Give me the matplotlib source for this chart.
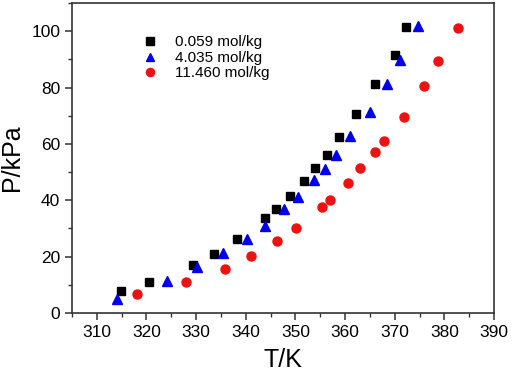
import matplotlib
matplotlib.use("Agg")
import matplotlib.pyplot as plt
from matplotlib.ticker import MultipleLocator

plt.rcParams['font.family'] = ['Liberation Sans', 'DejaVu Sans']

labels = ["0.059 mol/kg", "4.035 mol/kg", "11.460 mol/kg"]

T1 = [314.9, 320.5, 329.4, 333.6, 338.2, 343.8, 346.1, 348.9, 351.8, 354.0, 356.3, 358.8, 362.2, 366.0, 370.0, 372.3]
P1 = [7.9, 10.9, 17.1, 20.9, 26.1, 33.6, 37.0, 41.6, 47.0, 51.5, 56.1, 62.4, 70.6, 81.1, 91.6, 101.5]

T2 = [314.0, 324.1, 330.2, 335.5, 340.2, 343.9, 347.7, 350.5, 353.8, 355.9, 358.2, 361.0, 365.0, 368.4, 371.1, 374.6]
P2 = [4.9, 11.5, 16.2, 21.2, 26.1, 30.9, 36.8, 41.0, 47.2, 51.1, 56.0, 62.8, 71.3, 81.1, 89.7, 101.8]

T3 = [318.1, 328.0, 335.8, 341.0, 346.2, 350.1, 355.4, 357.0, 360.5, 363.1, 366.0, 367.9, 371.9, 376.0, 378.8, 382.7]
P3 = [6.6, 10.9, 15.6, 20.3, 25.6, 30.0, 37.7, 40.2, 46.2, 51.5, 57.1, 61.1, 69.5, 80.7, 89.4, 101.3]

fig = plt.figure(figsize=(5.12, 3.76), dpi=100)
ax = fig.add_axes([0.1406, 0.1676, 0.8242, 0.8244])

ax.plot(T1, P1, 's', color='black', markersize=5.8, linestyle='none', label=labels[0])
ax.plot(T2, P2, '^', color='#0000ee', markersize=6.8, linestyle='none', label=labels[1])
ax.plot(T3, P3, 'o', color='#ee1111', markersize=6.5, linestyle='none', label=labels[2])

ax.set_xlim(305, 390)
ax.set_ylim(0, 110)
ax.xaxis.set_major_locator(MultipleLocator(10))
ax.xaxis.set_minor_locator(MultipleLocator(5))
ax.yaxis.set_major_locator(MultipleLocator(20))
ax.yaxis.set_minor_locator(MultipleLocator(10))
ax.tick_params(which='major', direction='out', length=5, width=1.1, labelsize=12.5, color='#333333')
ax.tick_params(which='minor', direction='out', length=3, width=1.0, color='#333333')
for s in ax.spines.values():
    s.set_linewidth(1.2)
    s.set_color('#333333')

ax.set_xlabel('T/K', fontsize=18, labelpad=6)
ax.set_ylabel('P/kPa', fontsize=18, labelpad=5)

ax.legend(loc='upper left', bbox_to_anchor=(0.142, 0.925), frameon=False, fontsize=11,
          handletextpad=1.0, labelspacing=0.1, borderaxespad=0.2, handlelength=1.2,
          markerscale=0.9)

fig.savefig('out.png', dpi=100)
